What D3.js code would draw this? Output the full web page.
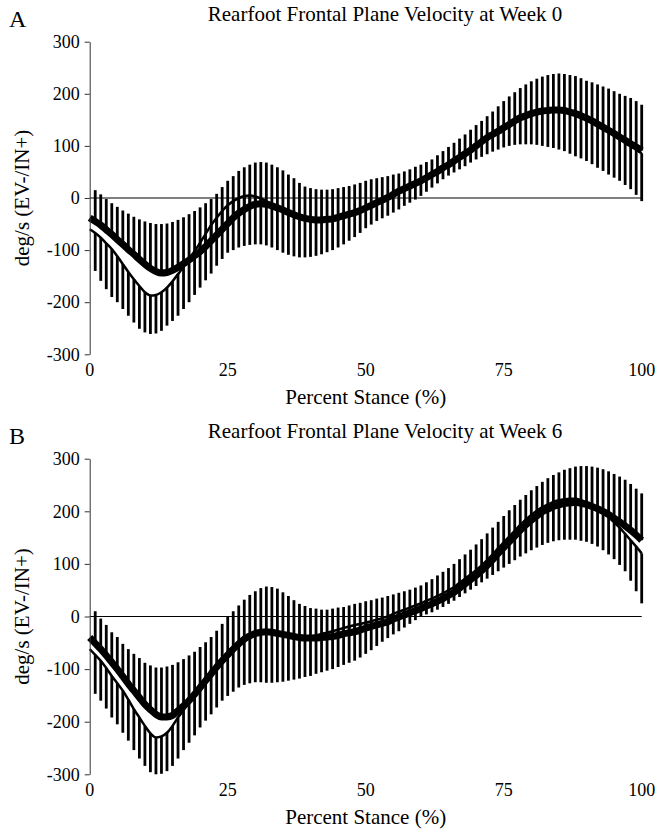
<!DOCTYPE html>
<html>
<head>
<meta charset="utf-8">
<script src="https://cdn.jsdelivr.net/npm/d3@7"></script>
</head>
<body style="margin:0; background:#fff">
<script>
// Percent stance, one sample every 1%
const stance = d3.range(0, 101);
const xTicks = [0, 25, 50, 75, 100];
const yTicks = [-300, -200, -100, 0, 100, 200, 300];

// Week 0 - thick black curve (group 1) and thin curve (group 2)
const w0Mean1 = [-38,-45,-52,-61,-70,-80,-89,-99,-108,-118,-127,-135,-141,-144,-143,-139,-133,-126,-119,-111,
  -103,-93,-82,-71,-60,-49,-38,-29,-22,-16,-12,-11,-12,-15,-19,-23,-28,-32,-36,-39,
  -41,-42,-42,-41,-40,-37,-34,-31,-28,-24,-19,-14,-9,-4,1,7,13,18,23,28,
  33,39,45,51,58,64,71,78,85,92,100,108,116,122,128,135,141,148,154,158,
  162,165,167,168,169,169,168,165,162,158,153,148,142,136,130,124,117,111,104,98,91];
const w0Mean2 = [-60,-67,-76,-87,-98,-112,-127,-142,-156,-169,-181,-187,-186,-181,-172,-160,-146,-132,-117,-102,
  -86,-69,-52,-38,-25,-14,-6,0,4,5,3,-1,-6,-12,-19,-25,-31,-35,-39,-41,
  -43,-43,-43,-42,-40,-37,-34,-31,-27,-22,-17,-12,-7,-2,3,9,15,20,25,30,
  35,41,47,53,60,66,73,80,87,94,101,109,116,122,128,135,141,147,153,157,
  161,164,166,167,168,168,166,163,160,156,151,146,140,134,127,121,114,107,100,93,86];
// bar ends: group 1 mean + SD, group 2 mean - SD
const w0Upper = [-38,15,7,-2,-10,-17,-24,-30,-36,-41,-45,-48,-50,-50,-49,-46,-42,-37,-31,-25,
  -18,-10,-2,8,21,33,42,52,59,64,68,69,68,64,59,53,45,38,29,22,
  19,17,16,16,17,19,21,23,26,29,33,36,38,40,42,45,47,51,55,60,
  64,69,74,82,90,98,106,114,122,131,140,148,157,166,176,186,195,203,211,218,
  224,229,233,236,238,239,238,236,234,230,225,222,218,214,210,205,200,196,192,186,179];
const w0Lower = [-60,-140,-159,-175,-190,-200,-213,-226,-239,-251,-258,-261,-260,-255,-245,-236,-226,-213,-200,-186,
  -172,-158,-145,-130,-117,-105,-100,-95,-92,-90,-89,-89,-91,-95,-100,-105,-109,-112,-114,-114,
  -113,-111,-108,-104,-100,-95,-89,-82,-75,-67,-58,-51,-44,-39,-34,-28,-22,-15,-9,-3,
  4,12,20,28,36,43,49,55,61,68,74,79,84,89,93,97,100,102,103,103,
  103,102,100,98,96,93,90,85,80,76,71,65,58,52,45,39,33,25,17,6,-6];

// Week 6
const w6Mean1 = [-40,-51,-62,-74,-87,-100,-114,-128,-141,-154,-167,-177,-186,-191,-191,-188,-179,-170,-160,-148,
  -135,-122,-109,-96,-84,-73,-62,-52,-43,-37,-32,-30,-29,-30,-32,-34,-36,-38,-40,-41,
  -41,-41,-40,-39,-38,-36,-33,-31,-29,-26,-22,-19,-16,-13,-10,-5,-1,3,7,11,
  15,20,24,29,34,40,46,54,62,70,78,87,97,108,120,131,142,153,164,174,
  183,191,199,204,209,212,215,216,217,215,213,209,205,200,194,187,180,172,164,155,145];
const w6Mean2 = [-62,-73,-84,-98,-113,-127,-141,-158,-176,-192,-208,-222,-230,-228,-221,-208,-192,-178,-163,-149,
  -135,-122,-109,-96,-84,-73,-62,-52,-44,-38,-33,-31,-30,-31,-33,-35,-37,-38,-39,-39,
  -38,-36,-33,-31,-28,-25,-22,-19,-16,-14,-12,-9,-6,-3,0,5,9,13,17,21,
  25,30,34,39,44,50,56,64,72,80,88,97,107,118,130,141,152,163,174,184,
  193,201,208,213,218,221,223,224,224,221,217,212,205,197,189,179,169,157,145,133,120];
const w6Upper = [-40,10,-4,-16,-30,-39,-52,-62,-71,-79,-88,-93,-97,-97,-95,-92,-87,-81,-74,-67,
  -58,-49,-39,-27,-14,-1,10,21,32,41,48,54,57,56,53,46,39,31,24,20,
  16,15,13,13,15,17,18,21,24,26,29,31,34,36,39,42,45,48,51,55,
  59,65,71,78,85,92,100,109,118,127,137,147,158,169,180,191,202,212,222,231,
  240,248,256,263,269,274,279,282,285,286,286,285,283,280,276,271,266,260,252,243,234];
const w6Lower = [-62,-147,-160,-175,-192,-205,-221,-236,-254,-270,-284,-296,-300,-299,-294,-284,-270,-254,-240,-226,
  -211,-198,-186,-173,-160,-151,-143,-135,-130,-127,-125,-125,-126,-126,-125,-124,-122,-120,-118,-115,
  -113,-109,-106,-103,-100,-96,-92,-88,-84,-78,-71,-64,-56,-48,-41,-34,-28,-21,-14,-7,
  0,4,8,13,18,24,30,37,44,51,58,65,72,79,86,93,100,107,114,120,
  126,131,136,140,143,145,146,146,146,144,142,138,133,126,118,109,98,86,68,48,25];

const width = 663, height = 833;
const font = "Liberation Serif";

const svg = d3.select("body").append("svg")
    .attr("width", width)
    .attr("height", height)
    .attr("font-family", font);

const x = d3.scaleLinear().domain([0, 100]).range([89.7, 641.7]);

function drawPanel(p) {
    const y = d3.scaleLinear().domain([-300, 300]).range([p.bottom, p.top]);
    const g = svg.append("g");

    // zero line
    g.append("line")
        .attr("x1", x(0)).attr("x2", x(100))
        .attr("y1", y(0)).attr("y2", y(0))
        .attr("stroke", "#000").attr("stroke-width", 1.2);

    // one sided SD bars, group 1 upwards, group 2 downwards
    g.selectAll(".bar-up")
        .data(stance)
        .enter().append("line")
        .attr("x1", d => x(d)).attr("x2", d => x(d))
        .attr("y1", (d, i) => y(p.mean1[i]))
        .attr("y2", (d, i) => y(p.upper[i]))
        .attr("stroke", "#000").attr("stroke-width", 2.8);

    g.selectAll(".bar-down")
        .data(stance)
        .enter().append("line")
        .attr("x1", d => x(d)).attr("x2", d => x(d))
        .attr("y1", (d, i) => y(p.mean2[i]))
        .attr("y2", (d, i) => y(p.lower[i]))
        .attr("stroke", "#000").attr("stroke-width", 2.8);

    const line = d3.line()
        .x((d, i) => x(stance[i]))
        .y(d => y(d))
        .curve(d3.curveMonotoneX);

    g.append("path")
        .datum(p.mean2)
        .attr("d", line)
        .attr("fill", "none")
        .attr("stroke", "#000")
        .attr("stroke-width", 2.5);

    g.append("path")
        .datum(p.mean1)
        .attr("d", line)
        .attr("fill", "none")
        .attr("stroke", "#000")
        .attr("stroke-width", 7);

    // y axis
    const yAxis = d3.axisLeft(y)
        .tickValues(yTicks)
        .tickSize(5)
        .tickSizeOuter(0)
        .tickPadding(5)
        .tickFormat(d => String(d));

    const ax = g.append("g")
        .attr("transform", `translate(${x(0)},0)`)
        .call(yAxis)
        .attr("font-family", font)
        .attr("font-size", 18);
    ax.select(".domain").attr("stroke", "#333");
    ax.selectAll(".tick line").attr("stroke", "#333");
    ax.selectAll("text").attr("fill", "#000");

    // x tick labels (no axis line in the original)
    g.selectAll(".xlab")
        .data(xTicks)
        .enter().append("text")
        .attr("x", d => x(d))
        .attr("y", p.bottom + 22)
        .attr("text-anchor", "middle")
        .attr("font-size", 18)
        .text(d => d);

    g.append("text")
        .attr("x", (x(0) + x(100)) / 2)
        .attr("y", p.bottom + 50)
        .attr("text-anchor", "middle")
        .attr("font-size", 21)
        .text("Percent Stance (%)");

    g.append("text")
        .attr("transform", `translate(29,${y(0)}) rotate(-90)`)
        .attr("text-anchor", "middle")
        .attr("font-size", 21)
        .text("deg/s (EV-/IN+)");

    g.append("text")
        .attr("x", 385)
        .attr("y", p.top - 21)
        .attr("text-anchor", "middle")
        .attr("font-size", 21)
        .text(p.title);

    g.append("text")
        .attr("x", 9)
        .attr("y", p.top - 15)
        .attr("font-size", 24)
        .text(p.letter);
}

drawPanel({ letter: "A", title: "Rearfoot Frontal Plane Velocity at Week 0", top: 41.7, bottom: 354.3,
    mean1: w0Mean1, mean2: w0Mean2, upper: w0Upper, lower: w0Lower });
drawPanel({ letter: "B", title: "Rearfoot Frontal Plane Velocity at Week 6", top: 458.7, bottom: 774.3,
    mean1: w6Mean1, mean2: w6Mean2, upper: w6Upper, lower: w6Lower });
</script>
</body>
</html>
